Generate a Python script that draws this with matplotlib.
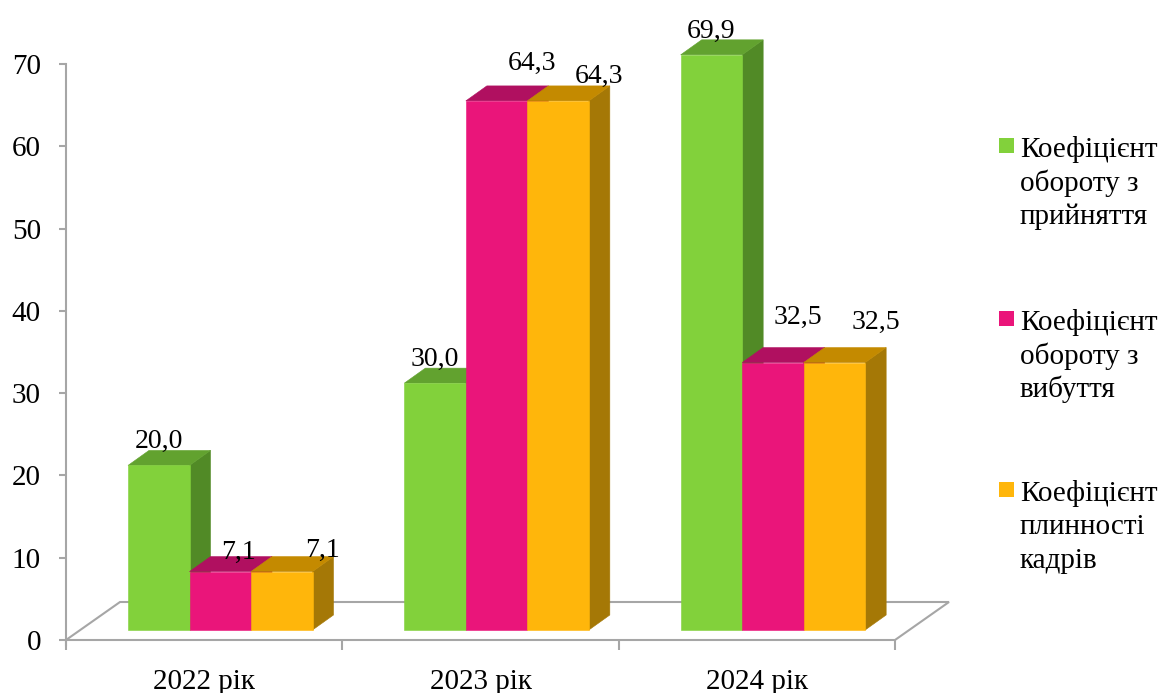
import matplotlib
matplotlib.use("Agg")
import matplotlib.pyplot as plt
from matplotlib.patches import Polygon, Rectangle

plt.rcParams['font.family'] = ['Liberation Serif', 'DejaVu Serif']

# Дані
years = ['2022 рік', '2023 рік', '2024 рік']
series_names = [['Коефіцієнт', 'обороту з', 'прийняття'],
                ['Коефіцієнт', 'обороту з', 'вибуття'],
                ['Коефіцієнт', 'плинності', 'кадрів']]
hire_rate = [20.0, 30.0, 69.9]
leave_rate = [7.1, 64.3, 32.5]
turnover_rate = [7.1, 64.3, 32.5]
values = [hire_rate, leave_rate, turnover_rate]

# кольори: фронт, верх, бік
front_colors = ['#82D13B', '#EA157A', '#FFB60B']
top_colors = ['#62A22F', '#B01060', '#C48A00']
side_colors = ['#518A26', '#9A0E55', '#A57806']

# зсув підписів (pt) для кожного ряду / року
label_dx = [[-15, -15, -15.5], [-2, 10.5, 2.5], [14, 14.5, 14.5]]
label_dy = [[1.5, 1.5, 1.5], [-1.5, 11.5, 17], [-0.5, 2, 13.5]]

fig = plt.figure(figsize=(11.65, 6.93), dpi=100)
ax = fig.add_axes([66/1165, 53/693, 829/1165, 576/693])
ax.set_xlim(0, 3)
ax.set_ylim(0, 70)

ppu = 576 / 70          # px per y unit
cat_px = 829 / 3        # px per category
base = 10 / ppu         # низ фронтальної грані
dx = 21 / cat_px        # глибина по x
dy = 15 / ppu           # глибина по y
bw = 61.5 / cat_px      # ширина стовпця
start = 62 / cat_px     # відступ групи від межі категорії

# підлога
fdx = 54 / cat_px
fdy = 38 / ppu
floor = Polygon([(0, 0), (3, 0), (3 + fdx, fdy), (fdx, fdy)], closed=True,
                facecolor='white', edgecolor='#A6A6A6', lw=1.5, clip_on=False, zorder=1)
ax.add_patch(floor)

z = 2
for i in range(len(years)):
    for s in range(len(values)):
        v = values[s][i]
        x0 = i + start + s * bw
        x1 = x0 + bw
        y0 = base
        y1 = base + v
        side = Polygon([(x1, y0), (x1 + dx, y0 + dy), (x1 + dx, y1 + dy), (x1, y1)],
                       facecolor=side_colors[s], edgecolor=side_colors[s], lw=0.4,
                       clip_on=False, zorder=z)
        top = Polygon([(x0, y1), (x1, y1), (x1 + dx, y1 + dy), (x0 + dx, y1 + dy)],
                      facecolor=top_colors[s], edgecolor=top_colors[s], lw=0.4,
                      clip_on=False, zorder=z)
        front = Rectangle((x0, y0), bw, v, facecolor=front_colors[s],
                          edgecolor=front_colors[s], lw=0.4, clip_on=False, zorder=z + 0.5)
        ax.add_patch(side)
        ax.add_patch(top)
        ax.add_patch(front)
        z += 1
        ax.annotate(f'{v:.1f}'.replace('.', ','),
                    xy=(x0 + bw / 2 + dx, y1 + dy),
                    xytext=(label_dx[s][i], label_dy[s][i]), textcoords='offset points',
                    ha='center', va='baseline', fontsize=20, zorder=50,
                    annotation_clip=False)

# осі
for sp in ['top', 'right', 'bottom']:
    ax.spines[sp].set_visible(False)
ax.spines['left'].set_color('#A6A6A6')
ax.spines['left'].set_linewidth(1.5)
ax.spines['left'].set_bounds(-0.6, 70)
ax.set_yticks(range(0, 71, 10))
ax.tick_params(axis='y', length=5, width=1.5, color='#A6A6A6', labelsize=21, pad=13)
ax.set_xticks([0, 1, 2, 3], minor=True)
ax.set_xticks([0.5, 1.5, 2.5])
ax.set_xticklabels(years, fontsize=21)
ax.tick_params(axis='x', which='major', length=0, pad=21)
ax.tick_params(axis='x', which='minor', length=7, width=1.5, color='#A6A6A6')

# легенда
leg_y = [146, 319, 490]
for s in range(len(series_names)):
    yf = 1 - leg_y[s] / 693
    fig.patches.append(Rectangle((999/1165, yf - 7/693), 15/1165, 15/693,
                                 transform=fig.transFigure, facecolor=front_colors[s],
                                 edgecolor='none'))
    for k, line in enumerate(series_names[s]):
        fig.text(1020/1165, 1 - (leg_y[s] + 11 + 33.5 * k) / 693, line, fontsize=21,
                 va='baseline', ha='left')

fig.savefig('out.png', dpi=100)
